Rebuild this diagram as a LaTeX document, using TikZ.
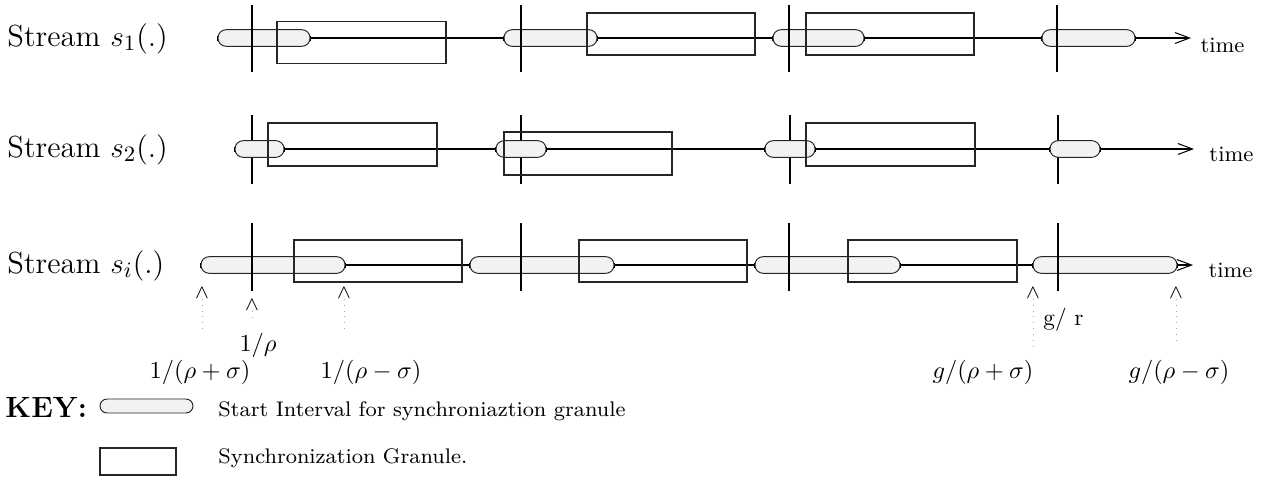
\documentclass[tikz,border=0pt]{standalone}
\usetikzlibrary{arrows.meta,fit}
\pgfdeclarelayer{back}
\pgfdeclarelayer{mid}
\pgfsetlayers{back,mid,main}
\newcommand\mkpill[4]{\node[pill, fit={(#2,#4-8.3)(#3,#4+8.3)}] (#1) {};
  \draw[pilltick] (#1.west) ++(0,-2.5) -- ++(0,5);
  \draw[pilltick] (#1.east) ++(0,-2.5) -- ++(0,5);}
\newcommand\mkbox[5]{\node[gbox, fit={(#2,#4)(#3,#5)}] (#1) {};}
\begin{document}
\begin{tikzpicture}[x=0.41pt,y=-0.41pt,
  pill/.style={draw=black!85, line width=0.4pt, fill=black!5, rounded corners=3.3pt, inner sep=0pt},
  gbox/.style={draw=black!85, line width=0.42pt, inner sep=0pt},
  tl/.style={line width=0.42pt, -{Straight Barb[length=6pt,width=4.5pt]}},
  vl/.style={line width=0.8pt},
  pilltick/.style={line width=0.8pt},
  lbl/.style={inner sep=0pt, anchor=base west, font=\fontsize{12.5}{14}\selectfont},
  tm/.style={inner sep=0pt, font=\fontsize{9}{11}\selectfont, anchor=west},
  mlab/.style={inner sep=0pt, font=\fontsize{10}{12}\selectfont},
  wdg/.style={inner sep=0pt, font=\fontsize{8}{9}\selectfont},
  dots/.style={dotted, draw=black!35, line width=0.4pt},
]
\useasboundingbox (0,0) rectangle (1277,480);

% ---------------- Row 1 ----------------
\node[lbl] (s1) at (7,46) {Stream $s_1$(.)};
\mkpill{p11}{218}{310}{38}
\mkpill{p12}{504}{597}{38}
\mkpill{p13}{773}{864}{38}
\mkpill{p14}{1042}{1135}{38}
\mkbox{b11}{277}{446}{21.7}{63.3}
\mkbox{b12}{587}{755}{13}{55}
\mkbox{b13}{806}{974}{13}{55}
\draw[vl] (252,5) -- (252,72);
\draw[vl] (521,5) -- (521,72);
\draw[vl] (789,5) -- (789,72);
\draw[vl] (1057,5) -- (1057,72);
\coordinate (e1) at (1191,38);
\begin{pgfonlayer}{mid}\draw[tl] (p11.east) -- (e1);\end{pgfonlayer}
\node[tm] (t1) at (1200,45) {time};

% ---------------- Row 2 ----------------
\node[lbl] (s2) at (7,157) {Stream $s_2$(.)};
\mkpill{p21}{235}{284}{149}
\mkpill{p22}{496}{546}{149}
\mkpill{p23}{765}{815}{149}
\mkpill{p24}{1050}{1100}{149}
\mkbox{b21}{268}{437}{123}{166}
\mkbox{b22}{504}{672}{132}{175}
\mkbox{b23}{806}{975}{123}{166}
\begin{pgfonlayer}{back}
\draw[vl] (252,115) -- (252,184);
\draw[vl] (521,115) -- (521,184);
\draw[vl] (790,115) -- (790,184);
\draw[vl] (1058,115) -- (1058,184);
\end{pgfonlayer}
\coordinate (e2) at (1194,149);
\begin{pgfonlayer}{mid}\draw[tl] (p21.east) -- (e2);\end{pgfonlayer}
\node[tm] (t2) at (1209,154) {time};

% ---------------- Row 3 ----------------
\node[lbl] (s3) at (7,273) {Stream $s_i$(.)};
\mkpill{p31}{201}{345}{265}
\mkpill{p32}{470}{614}{265}
\mkpill{p33}{755}{900}{265}
\mkpill{p34}{1033}{1177}{265}
\mkbox{b31}{294}{462}{240}{282}
\mkbox{b32}{579}{747}{240}{282}
\mkbox{b33}{848}{1017}{240}{282}
\draw[vl] (252,223) -- (252,291);
\draw[vl] (521,223) -- (521,291);
\draw[vl] (789,223) -- (789,291);
\draw[vl] (1058,223) -- (1058,291);
\coordinate (e3) at (1193,265);
\begin{pgfonlayer}{mid}\draw[tl] (p31.east) -- (e3);\end{pgfonlayer}
\node[tm] (t3) at (1208,270) {time};

% markers
\node[wdg] (w1) at (202,293) {$\wedge$};
\node[wdg] (w2) at (252,305) {$\wedge$};
\node[wdg] (w3) at (344,293) {$\wedge$};
\node[wdg] (w4) at (1033,293) {$\wedge$};
\node[wdg] (w5) at (1176,293) {$\wedge$};
\coordinate (d1) at (202,329);
\coordinate (d2) at (252,322);
\coordinate (d3) at (344,329);
\coordinate (d4) at (1033,347);
\coordinate (d5) at (1176,340);
\draw[dots] (w1.south) -- (d1);
\draw[dots] (w2.south) -- (d2);
\draw[dots] (w3.south) -- (d3);
\draw[dots] (w4.south) -- (d4);
\draw[dots] (w5.south) -- (d5);

\node[mlab] (l1) at (258,345) {$1/\rho$};
\node[mlab] (l2) at (200,372) {$1/(\rho+\sigma)$};
\node[mlab] (l3) at (371,372) {$1/(\rho-\sigma)$};
\node[mlab, anchor=west, font=\fontsize{9.5}{11}\selectfont] (l4) at (1043,320) {g/ r};
\node[mlab] (l5) at (983,372) {$g/(\rho+\sigma)$};
\node[mlab] (l6) at (1179,372) {$g/(\rho-\sigma)$};

% ---------------- Key ----------------
\node[inner sep=0pt, anchor=west, font=\fontsize{12}{14}\selectfont\bfseries] (key) at (5,407) {KEY:};
\node[pill, rounded corners=2.9pt, fit={(100,399)(193,413)}] (kp) {};
\node[gbox, fit={(100,448)(176,475)}] (kb) {};
\node[inner sep=0pt, anchor=west] (k1) at (218,411) {\resizebox{166.9pt}{!}{\fontsize{8}{9}\selectfont Start Interval for synchroniaztion granule}};
\node[inner sep=0pt, anchor=west] (k2) at (218,458) {\resizebox{102pt}{!}{\fontsize{8}{9}\selectfont Synchronization Granule.}};
\end{tikzpicture}
\end{document}
